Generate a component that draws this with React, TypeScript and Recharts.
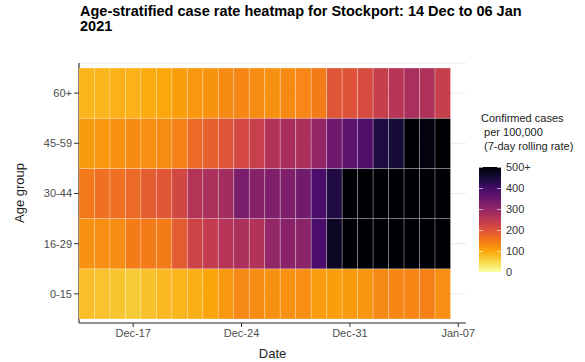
import { CartesianGrid, Scatter, ScatterChart, XAxis, YAxis } from "recharts";

const dates = [
  "Dec-14", "Dec-15", "Dec-16", "Dec-17", "Dec-18", "Dec-19", "Dec-20", "Dec-21",
  "Dec-22", "Dec-23", "Dec-24", "Dec-25", "Dec-26", "Dec-27", "Dec-28", "Dec-29",
  "Dec-30", "Dec-31", "Jan-01", "Jan-02", "Jan-03", "Jan-04", "Jan-05", "Jan-06",
];
const ageGroups = ["0-15", "16-29", "30-44", "45-59", "60+"];

const rate0to15 = [75, 70, 68, 62, 72, 80, 85, 90, 100, 115, 132, 128, 122, 122, 125, 110, 108, 112, 118, 132, 133, 136, 140, 125];
const rate16to29 = [122, 125, 128, 145, 145, 145, 185, 225, 240, 258, 270, 262, 300, 312, 310, 390, 470, 520, 540, 560, 570, 580, 575, 570];
const rate30to44 = [150, 160, 160, 168, 185, 192, 220, 260, 270, 280, 330, 315, 325, 325, 340, 390, 440, 510, 540, 560, 570, 580, 575, 570];
const rate45to59 = [112, 115, 122, 130, 125, 128, 140, 168, 180, 195, 215, 232, 262, 275, 270, 300, 345, 365, 385, 440, 450, 505, 490, 500];
const rate60plus = [85, 85, 88, 88, 95, 98, 108, 115, 120, 130, 135, 128, 122, 130, 135, 145, 195, 198, 210, 235, 255, 275, 265, 235];
const rates = [rate0to15, rate16to29, rate30to44, rate45to59, rate60plus];

const tickDays = [3, 10, 17, 24];
const tickLabels = ["Dec-17", "Dec-24", "Dec-31", "Jan-07"];
const legendValues = [0, 100, 200, 300, 400, 500];
const legendLabels = ["0", "100", "200", "300", "400", "500+"];

const INFERNO = ["#000004", "#160B39", "#420A68", "#6A176E", "#932667", "#BC3754", "#DD513A", "#F37819", "#FCA50A", "#F6D746", "#FCFFA4"];

const hex = (c: string) => [1, 3, 5].map((i) => parseInt(c.slice(i, i + 2), 16));
const colorFor = (v: number) => {
  const t = (1 - Math.min(v, 500) / 500) * 10;
  const i = Math.min(Math.floor(t), 9);
  const f = t - i;
  const a = hex(INFERNO[i]);
  const b = hex(INFERNO[i + 1]);
  const rgb = a.map((c, k) => Math.round(c + (b[k] - c) * f));
  return `rgb(${rgb.join(",")})`;
};

const cells = rates.flatMap((row, y) => row.map((v, x) => ({ x, y, v, date: dates[x] })));

const W = 585;
const H = 362;
const M = { top: 63, right: 119, bottom: 0, left: 0 };
const Y_W = 79;
const X_H = 39;
const X_DOMAIN = [-0.5, 24.5];
const Y_DOMAIN = [-0.58, 4.6];
const PLOT_W = W - Y_W - M.right;
const PLOT_H = H - M.top - X_H;
const TILE_W = PLOT_W / (X_DOMAIN[1] - X_DOMAIN[0]);
const TILE_H = PLOT_H / (Y_DOMAIN[1] - Y_DOMAIN[0]);

const font = "'Liberation Sans', Arial, sans-serif";
const tickStyle = { fill: "#4D4D4D", fontSize: 11, fontFamily: font };

const Tile = (props: any) => {
  const { cx, cy, payload } = props;
  return (
    <rect
      x={cx - TILE_W / 2}
      y={cy - TILE_H / 2}
      width={TILE_W}
      height={TILE_H}
      fill={colorFor(payload.v)}
      stroke="rgba(255,255,255,0.3)"
      strokeWidth={0.8}
    />
  );
};

// legend colour bar geometry
const BAR = { x: 479, top: 167, bottom: 272, w: 22 };
const barY = (v: number) => BAR.bottom - ((BAR.bottom - BAR.top) * v) / 500;

const App = () => {
  return (
    <div style={{ position: "absolute", left: 0, top: 0, width: W, height: H, background: "#fff", fontFamily: font }}>
      <div style={{ position: "absolute", left: 80, top: 4, fontSize: 14.5, lineHeight: "15px", fontWeight: "bold", color: "#000" }}>
        Age-stratified case rate heatmap for Stockport: 14 Dec to 06 Jan
        <br />
        2021
      </div>
      <ScatterChart width={W} height={H} margin={M}>
        <CartesianGrid vertical={false} stroke="#EBEBEB" />
        <XAxis
          type="number"
          dataKey="x"
          domain={X_DOMAIN}
          ticks={tickDays}
          tickFormatter={(d: number) => tickLabels[tickDays.indexOf(d)]}
          height={X_H}
          tickSize={4}
          tick={tickStyle}
          axisLine={{ stroke: "#333", strokeWidth: 1.2 }}
          tickLine={{ stroke: "#333" }}
          allowDataOverflow
          label={{ value: "Date", position: "insideBottom", offset: 4, fill: "#222", fontSize: 13, fontFamily: font }}
        />
        <YAxis
          type="number"
          dataKey="y"
          domain={Y_DOMAIN}
          ticks={[0, 1, 2, 3, 4]}
          tickFormatter={(i: number) => ageGroups[i]}
          width={Y_W}
          tickSize={5}
          tick={tickStyle}
          axisLine={{ stroke: "#333", strokeWidth: 1.2 }}
          tickLine={{ stroke: "#333" }}
          allowDataOverflow
          label={{ value: "Age group", angle: -90, position: "insideLeft", offset: 19, fill: "#222", fontSize: 13, fontFamily: font, style: { textAnchor: "middle" } }}
        />
        <Scatter data={cells} shape={Tile} isAnimationActive={false} />
      </ScatterChart>
      <div style={{ position: "absolute", left: 481, top: 111, fontSize: 11, lineHeight: "14px", color: "#222", whiteSpace: "pre" }}>
        {"Confirmed cases\n per 100,000\n (7-day rolling rate)"}
      </div>
      <div
        style={{
          position: "absolute",
          left: BAR.x,
          top: BAR.top,
          width: BAR.w,
          height: BAR.bottom - BAR.top,
          background: `linear-gradient(to bottom, ${INFERNO.join(",")})`,
        }}
      />
      {legendValues.map((v, i) => (
        <div key={v}>
          <div style={{ position: "absolute", left: BAR.x, top: barY(v), width: 4, height: 1, background: "rgba(255,255,255,0.6)" }} />
          <div style={{ position: "absolute", left: BAR.x + BAR.w - 4, top: barY(v), width: 4, height: 1, background: "rgba(255,255,255,0.6)" }} />
          <div style={{ position: "absolute", left: 506, top: barY(v) - 6, fontSize: 11, lineHeight: "12px", color: "#333" }}>
            {legendLabels[i]}
          </div>
        </div>
      ))}
    </div>
  );
};

export default App;
